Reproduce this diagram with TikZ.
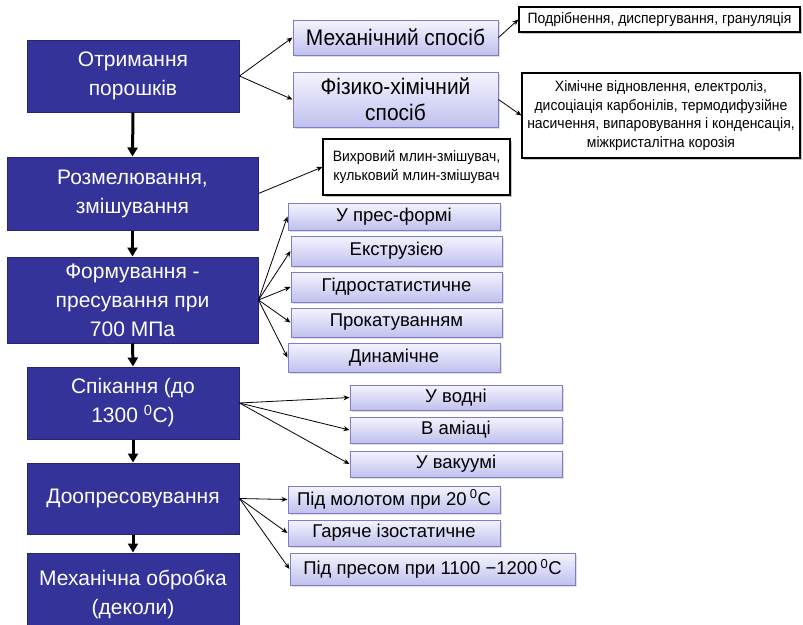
\documentclass[tikz,border=0pt]{standalone}
\usepackage{fontspec}
\setmainfont{Liberation Sans}
\newfontfamily\nfont{Liberation Sans}[FakeStretch=0.93]
\usetikzlibrary{arrows.meta,shadows}
\definecolor{mainblue}{RGB}{51,51,153}
\definecolor{mainedge}{RGB}{38,38,110}
\definecolor{ltop}{RGB}{244,244,255}
\definecolor{lbot}{RGB}{192,192,238}
\definecolor{ledge}{RGB}{125,125,200}
\tikzset{
  mainbox/.style={draw=mainedge, line width=1pt, fill=mainblue, text=white, align=center,
    inner sep=0pt, font=\fontsize{21}{29}\selectfont},
  lbox/.style={draw=ledge, line width=1pt, top color=ltop, bottom color=lbot, align=center,
    inner sep=0pt, font=\fontsize{18.5}{23}\selectfont,
    drop shadow={opacity=0.25, shadow xshift=1.5pt, shadow yshift=-1.5pt}},
  bigl/.style={lbox, font=\nfont\fontsize{22.5}{26}\selectfont},
  wbox/.style={draw=black, line width=1.2pt, fill=white, align=center, inner sep=0pt,
    font=\nfont\fontsize{15}{18.7}\selectfont,
    drop shadow={opacity=0.45, shadow xshift=1.5pt, shadow yshift=-1.5pt}},
  thick arrow/.style={line width=3pt, -{Triangle[width=10pt,length=9pt]}},
  thin arrow/.style={line width=0.8pt, -{Stealth[width=5pt,length=6pt]}}
}
\begin{document}
\begin{tikzpicture}[x=1pt,y=-1pt]
\useasboundingbox (0,0) rectangle (803,624);
% main column
\node[mainbox, minimum width=212pt, minimum height=72pt] (m1) at (133,76) {Отримання\\порошків};
\node[mainbox, minimum width=251pt, minimum height=73pt] (m2) at (132.5,193.5) {Розмелювання,\\змішування};
\node[mainbox, minimum width=251pt, minimum height=86pt] (m3) at (132.5,300) {Формування -\\пресування при\\700 МПа};
\node[mainbox, minimum width=212pt, minimum height=72pt] (m4) at (133,403) {Спікання (до\\1300 \textsuperscript{0}C)};
\node[mainbox, minimum width=212pt, minimum height=71pt] (m5) at (133,498.5) {Доопресовування};
\node[mainbox, minimum width=212pt, minimum height=82pt] (m6) at (133,594) {Механічна обробка\\(деколи)};
\draw[thick arrow] (m1.south) -- (m2.north);
\draw[thick arrow] (m2.south) -- (m3.north);
\draw[thick arrow] (m3.south) -- (m4.north);
\draw[thick arrow] (m4.south) -- (m5.north);
\draw[thick arrow] (m5.south) -- (m6.north);
% powders
\node[bigl, minimum width=205pt, minimum height=35pt] (mech) at (395.5,37.5) {Механічний спосіб};
\node[bigl, minimum width=205pt, minimum height=55pt] (fiz) at (395.5,99.5) {Фізико-хімічний\\спосіб};
\node[wbox, minimum width=281pt, minimum height=25pt] (pod) at (659.5,19.5) {Подрібнення, диспергування, грануляція};
\node[wbox, minimum width=278pt, minimum height=85pt] (chem) at (661,115.5) {Хімічне відновлення, електроліз,\\дисоціація карбонілів, термодифузійне\\насичення, випаровування і конденсація,\\міжкристалітна корозія};
\draw[thin arrow] (m1.east) -- (mech.west);
\draw[thin arrow] (m1.east) -- (fiz.west);
\draw[thin arrow] (mech.east) -- (pod.west);
\draw[thin arrow] (fiz.east) -- (chem.west);
% mixing
\node[wbox, minimum width=187pt, minimum height=56pt] (vikh) at (416.5,167) {Вихровий млин-змішувач,\\кульковий млин-змішувач};
\draw[thin arrow] (m2.east) -- (vikh.west);
% forming
\node[lbox, minimum width=212pt, minimum height=27pt] (p1) at (394,216.5) {У прес-формі};
\node[lbox, minimum width=211pt, minimum height=30pt] (p2) at (396.5,251) {Екструзією};
\node[lbox, minimum width=211pt, minimum height=30pt] (p3) at (396.5,287) {Гідростатистичне};
\node[lbox, minimum width=211pt, minimum height=29pt] (p4) at (396.5,322.5) {Прокатуванням};
\node[lbox, minimum width=212pt, minimum height=29pt] (p5) at (394,357.5) {Динамічне};
\foreach \n in {p1,p2,p3,p4,p5} \draw[thin arrow] (m3.east) -- (\n.west);
% sintering
\node[lbox, minimum width=212pt, minimum height=25pt] (s1) at (456,397.5) {У водні};
\node[lbox, minimum width=212pt, minimum height=26pt] (s2) at (456,430) {В аміаці};
\node[lbox, minimum width=212pt, minimum height=26pt] (s3) at (456,464) {У вакуумі};
\foreach \n in {s1,s2,s3} \draw[thin arrow] (m4.east) -- (\n.west);
% re-pressing
\node[lbox, minimum width=212pt, minimum height=27pt] (d1) at (394,499.5) {Під молотом при 20\,\textsuperscript{0}C};
\node[lbox, minimum width=212pt, minimum height=26pt] (d2) at (394,533) {Гаряче ізостатичне};
\node[lbox, minimum width=285pt, minimum height=32pt] (d3) at (432.5,569) {Під пресом при 1100 −1200\,\textsuperscript{0}C};
\foreach \n in {d1,d2,d3} \draw[thin arrow] (m5.east) -- (\n.west);
\end{tikzpicture}
\end{document}
